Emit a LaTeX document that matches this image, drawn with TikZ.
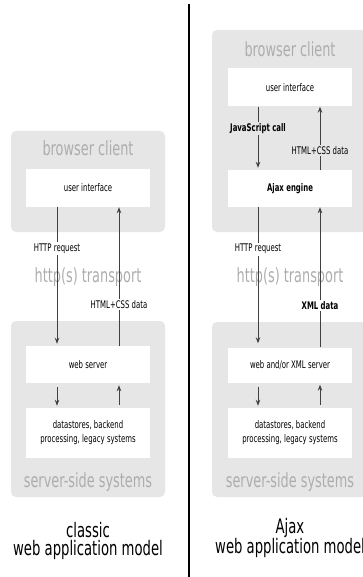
\documentclass[tikz,border=0pt]{standalone}
\usepackage{fontspec}
\newfontfamily\diagfont[FakeStretch=0.66]{DejaVu Sans}
\usetikzlibrary{arrows.meta}
\definecolor{boxgray}{HTML}{E6E6E6}
\definecolor{titlegray}{HTML}{ADADAD}
\definecolor{linegray}{HTML}{404040}

\begin{document}
\begin{tikzpicture}[x=1pt,y=-1pt,
    graybox/.style={fill=boxgray, rounded corners=5pt},
    whitebox/.style={fill=white, minimum width=124pt, minimum height=38pt, inner sep=0pt,
        align=center, font=\diagfont\fontsize{10.5}{14}\selectfont},
    title/.style={text=titlegray, inner sep=0pt, font=\diagfont\fontsize{19.5}{22}\selectfont},
    lbl/.style={inner sep=1.5pt, font=\diagfont\fontsize{10.5}{12}\selectfont},
    boldlbl/.style={font=\diagfont\bfseries\fontsize{10.5}{12}\selectfont},
    arrow/.style={draw=linegray, line width=0.9pt, -{Stealth[length=6pt,width=4.5pt]}},
    caption/.style={inner sep=0pt, font=\diagfont\fontsize{20}{22}\selectfont}]
    \useasboundingbox (0,0) rectangle (363,577);
    \clip (0,0) rectangle (363,577);

    % divider
    \draw[line width=2.2pt] (189,4) -- (189,577);

    % gray areas
    \fill[graybox] (11,131) rectangle (165,232);
    \fill[graybox] (11,321) rectangle (165,497);
    \fill[graybox] (212,30) rectangle (367,232);
    \fill[graybox] (212,322) rectangle (367,497);

    % classic model
    \node[title] (cbc) at (88,148) {browser client};
    \node[title] (ctr) at (88,277) {http(s) transport};
    \node[title] (css) at (88,482) {server-side systems};
    \node[whitebox] (cui) at (88,188) {user interface};
    \node[whitebox, minimum height=37pt] (cws) at (88,364.5) {web server};
    \node[whitebox, minimum height=50pt] (cds) at (88,433) {datastores, backend\\processing, legacy systems};

    \draw[arrow, shorten >=2pt] ([xshift=-31pt]cui.south) --
        node[lbl, fill=white, pos=0.3] (creq) {HTTP request} ([xshift=-31pt]cws.north);
    \draw[arrow] ([xshift=31pt]cws.north) --
        node[lbl, fill=white, pos=0.3] (cdat) {HTML+CSS data} ([xshift=31pt]cui.south);
    \draw[arrow, shorten <=4pt, shorten >=2pt] ([xshift=-31pt]cws.south) -- ([xshift=-31pt]cds.north);
    \draw[arrow, shorten <=3pt, shorten >=2pt] ([xshift=31pt]cds.north) -- ([xshift=31pt]cws.south);

    \node[caption] (ccap) at (88,530) {classic};
    \node[caption] (cmod) at (88,550) {web application model};

    % Ajax model
    \node[title] (abc) at (290,49) {browser client};
    \node[title] (atr) at (290,277) {http(s) transport};
    \node[title] (ass) at (290,482) {server-side systems};
    \node[whitebox] (aui) at (290,87.5) {user interface};
    \node[whitebox, boldlbl, minimum height=37pt] (aeng) at (290,188.5) {Ajax engine};
    \node[whitebox, minimum height=35pt] (aws) at (290,365) {web and/or XML server};
    \node[whitebox, minimum height=50pt] (ads) at (290,433) {datastores, backend\\processing, legacy systems};

    \draw[arrow, shorten >=2pt] ([xshift=-32pt]aui.south) --
        node[lbl, boldlbl, fill=boxgray, pos=0.35] (acall) {JavaScript call} ([xshift=-32pt]aeng.north);
    \draw[arrow] ([xshift=30pt]aeng.north) --
        node[lbl, fill=boxgray, pos=0.3] (ahtml) {HTML+CSS data} ([xshift=30pt]aui.south);
    \draw[arrow, shorten >=4pt] ([xshift=-32pt]aeng.south) --
        node[lbl, fill=white, pos=0.3] (areq) {HTTP request} ([xshift=-32pt]aws.north);
    \draw[arrow] ([xshift=30pt]aws.north) --
        node[lbl, boldlbl, fill=white, pos=0.3] (axml) {XML data} ([xshift=30pt]aeng.south);
    \draw[arrow, shorten <=4pt, shorten >=2pt] ([xshift=-32pt]aws.south) -- ([xshift=-32pt]ads.north);
    \draw[arrow, shorten <=3pt, shorten >=2pt] ([xshift=30pt]ads.north) -- ([xshift=30pt]aws.south);

    \node[caption] (acap) at (290,528) {Ajax};
    \node[caption] (amod) at (290,548) {web application model};
\end{tikzpicture}
\end{document}
